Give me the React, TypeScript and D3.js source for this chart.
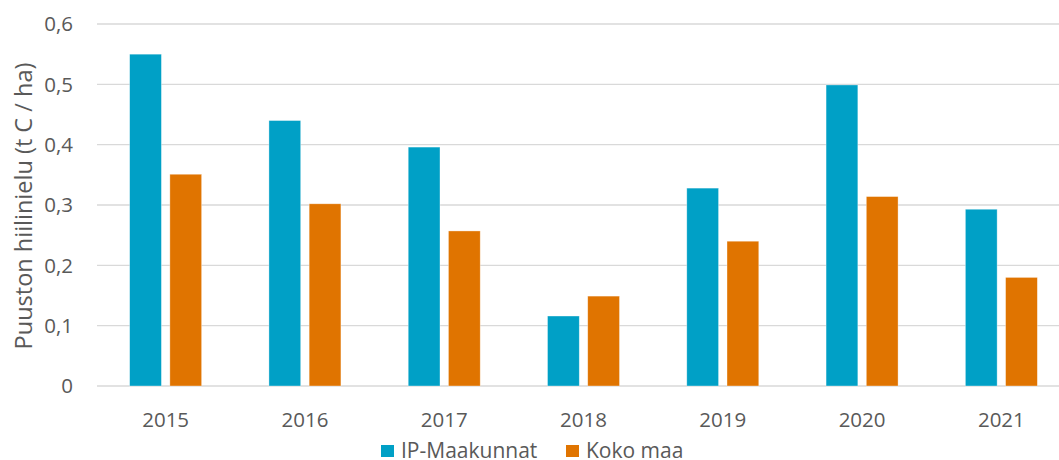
import * as d3 from 'd3'
import React, { useEffect, useRef } from 'react'

const years = ['2015', '2016', '2017', '2018', '2019', '2020', '2021']
const series = ['IP-Maakunnat', 'Koko maa']
const ipMaakunnat = [0.55, 0.44, 0.396, 0.116, 0.328, 0.499, 0.293]
const kokoMaa = [0.351, 0.302, 0.257, 0.149, 0.24, 0.314, 0.18]
const yTicks = [0, 0.1, 0.2, 0.3, 0.4, 0.5, 0.6]
const colors = ['#00A0C6', '#E07400']

export default function App() {
  const ref = useRef<SVGSVGElement>(null)

  useEffect(() => {
    const svg = d3.select(ref.current)
    svg.selectAll('*').remove()
    const font = "'Open Sans', 'Noto Sans', sans-serif"
    const textColor = '#595959'

    const y = d3.scaleLinear().domain([0, 0.6]).range([386, 24])
    const x0 = d3.scaleBand().domain(years).range([96, 1071]).padding(0)
    const x1 = d3.scaleBand().domain(series).range([-36, 36]).paddingInner(0.21)

    //gridlines
    svg
      .append('g')
      .selectAll('line')
      .data(yTicks)
      .join('line')
      .attr('x1', 97)
      .attr('x2', 1059)
      .attr('y1', d => y(d))
      .attr('y2', d => y(d))
      .attr('stroke', '#d9d9d9')
      .attr('stroke-width', 1.3)

    //y labels
    svg
      .append('g')
      .selectAll('text')
      .data(yTicks)
      .join('text')
      .attr('x', 73)
      .attr('y', d => y(d))
      .attr('dy', '0.36em')
      .attr('text-anchor', 'end')
      .attr('font-family', font)
      .attr('font-size', 20.5)
      .attr('fill', textColor)
      .text(d => d3.format('.1f')(d).replace('.', ',').replace(/^0,0$/, '0'))

    //bars
    const values = [ipMaakunnat, kokoMaa]
    const groups = svg
      .append('g')
      .selectAll('g')
      .data(years)
      .join('g')
      .attr('transform', d => `translate(${x0(d)! + x0.bandwidth() / 2},0)`)

    groups
      .selectAll('rect')
      .data((d, i) => series.map((s, j) => ({ s, j, v: values[j][i] })))
      .join('rect')
      .attr('x', d => x1(d.s)!)
      .attr('width', x1.bandwidth())
      .attr('y', d => y(d.v))
      .attr('height', d => y(0) - y(d.v))
      .attr('fill', d => colors[d.j])
      .attr('stroke', '#ffffff')
      .attr('stroke-opacity', 0.5)
      .attr('stroke-width', 0.7)

    //x labels
    svg
      .append('g')
      .selectAll('text')
      .data(years)
      .join('text')
      .attr('x', d => x0(d)! + x0.bandwidth() / 2)
      .attr('y', 427)
      .attr('text-anchor', 'middle')
      .attr('font-family', font)
      .attr('font-size', 20.5)
      .attr('fill', textColor)
      .text(d => d)

    //y title
    svg
      .append('text')
      .attr('transform', 'translate(32,206) rotate(-90)')
      .attr('text-anchor', 'middle')
      .attr('font-family', font)
      .attr('font-size', 23.5)
      .attr('fill', textColor)
      .text('Puuston hiilinielu (t C / ha)')

    //legend
    const legendX = [381, 566]
    const legend = svg
      .append('g')
      .selectAll('g')
      .data(series)
      .join('g')
      .attr('transform', (d, i) => `translate(${legendX[i]},0)`)

    legend
      .append('rect')
      .attr('y', 445)
      .attr('width', 13)
      .attr('height', 12)
      .attr('fill', (d, i) => colors[i])

    legend
      .append('text')
      .attr('x', 20)
      .attr('y', 457.5)
      .attr('font-family', font)
      .attr('font-size', 21)
      .attr('fill', textColor)
      .text(d => d)
  }, [ref])

  return (
    <svg
      ref={ref}
      width="1059"
      height="460"
      style={{ position: 'absolute', left: 0, top: 0, background: '#fff' }}
    />
  )
}
